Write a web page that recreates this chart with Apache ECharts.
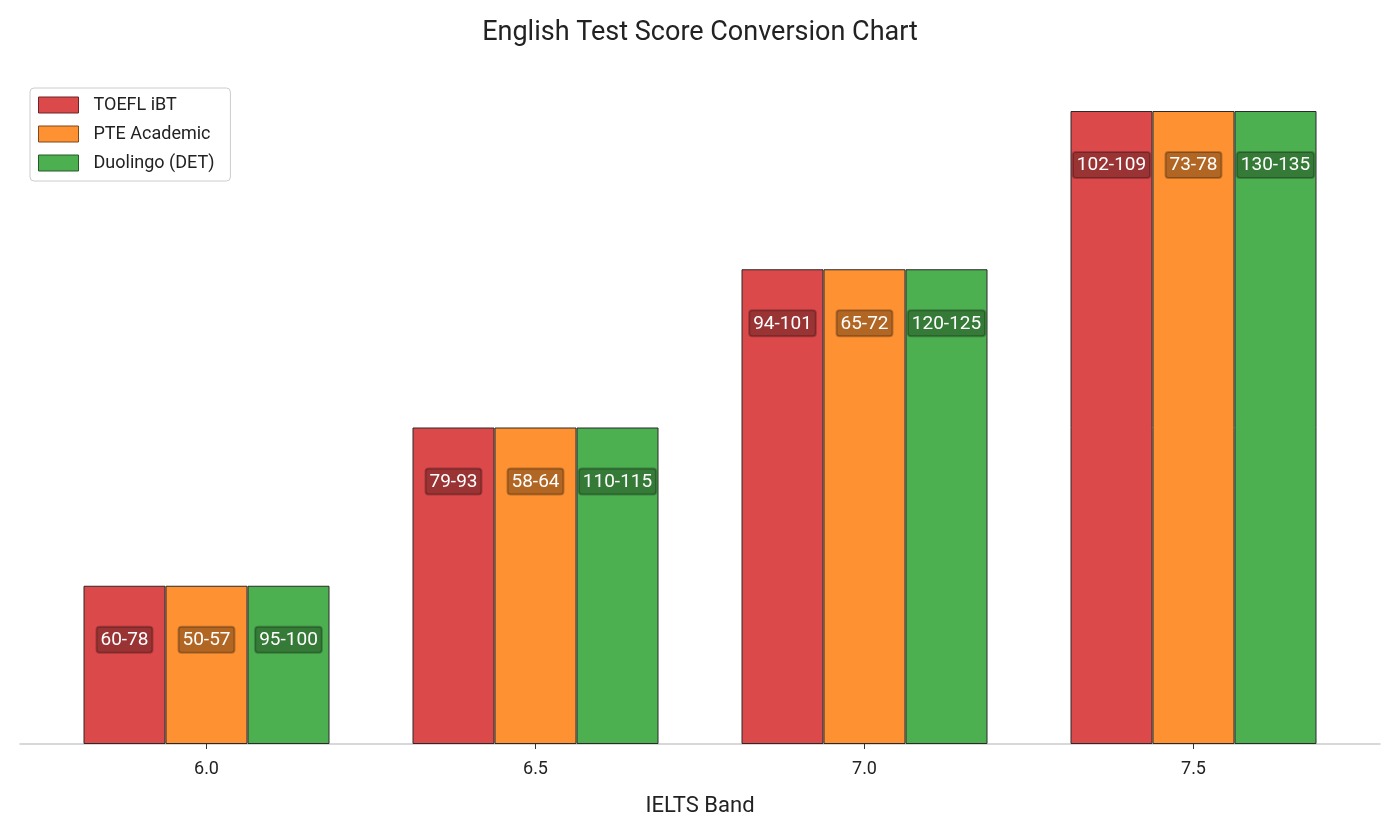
<!DOCTYPE html>
<html>
<head>
<meta charset="utf-8">
<script src="https://cdn.jsdelivr.net/npm/echarts@6/dist/echarts.min.js"></script>
<style>html,body{margin:0;padding:0;background:#fff}#c{width:1400px;height:840px}</style>
</head>
<body>
<div id="c"></div>
<script>
const categories = ['6.0', '6.5', '7.0', '7.5'];
const levels = [1, 2, 3, 4];
const toeflRanges = ['60-78', '79-93', '94-101', '102-109'];
const pteRanges = ['50-57', '58-64', '65-72', '73-78'];
const detRanges = ['95-100', '110-115', '120-125', '130-135'];
const seriesNames = ['TOEFL iBT', 'PTE Academic', 'Duolingo (DET)'];
const colors = ['#dc494b', '#fe9233', '#4caf50'];
const edgeColors = ['#6e2426', '#7f4919', '#265828'];

const chart = echarts.init(document.getElementById('c'));
const font = 'Roboto, "Noto Sans", sans-serif';

function mkSeries(i, ranges) {
  return {
    name: seriesNames[i],
    type: 'bar',
    xAxisIndex: 0,
    yAxisIndex: 0,
    data: levels,
    barWidth: 82,
    barGap: '0%',
    itemStyle: { color: colors[i], borderColor: '#2a2a2a', borderWidth: 1 },
    label: {
      show: true,
      position: 'insideTop',
      distance: 41,
      formatter: p => ranges[p.dataIndex],
      color: '#fff',
      fontFamily: font,
      fontSize: 19,
      lineHeight: 21,
      padding: [3, 4, 2, 4],
      backgroundColor: 'rgba(0,0,0,0.3)',
      borderColor: 'rgba(0,0,0,0.25)',
      borderWidth: 1,
      borderRadius: 3
    },
    emphasis: { disabled: true }
  };
}

chart.setOption({
  animation: false,
  textStyle: { fontFamily: font },
  title: {
    text: 'English Test Score Conversion Chart',
    left: 'center',
    top: 15,
    textStyle: { fontSize: 27, fontWeight: 'normal', color: '#222', fontFamily: font }
  },
  legend: {
    orient: 'vertical',
    left: 30,
    top: 88,
    itemWidth: 40,
    itemHeight: 16,
    itemGap: 11,
    padding: [8, 16, 9, 8],
    backgroundColor: '#fff',
    borderColor: '#cccccc',
    borderWidth: 1,
    borderRadius: 4,
    icon: 'rect',
    itemStyle: { borderWidth: 1 },
    textStyle: { fontSize: 18, color: '#222', fontFamily: font, padding: [0, 0, 0, 10] },
    data: seriesNames.map((n, i) => ({ name: n, itemStyle: { borderColor: edgeColors[i], borderWidth: 1 } }))
  },
  grid: [
    { left: 42, right: 42, top: 111, bottom: 96 },
    { left: 20, right: 20, top: 111, bottom: 96 }
  ],
  xAxis: [
    {
      type: 'category',
      gridIndex: 0,
      data: categories,
      axisLine: { show: false },
      axisTick: { show: true, alignWithLabel: true, length: 5, lineStyle: { color: '#333' } },
      axisLabel: { fontSize: 18, color: '#222', margin: 16, fontFamily: font },
      name: 'IELTS Band',
      nameLocation: 'middle',
      nameGap: 51,
      nameTextStyle: { fontSize: 22, color: '#222', fontFamily: font }
    },
    {
      type: 'value',
      gridIndex: 1,
      min: 0,
      max: 1,
      axisLine: { show: true, onZero: false, lineStyle: { color: '#cccccc', width: 1.5 } },
      axisTick: { show: false },
      axisLabel: { show: false },
      splitLine: { show: false }
    }
  ],
  yAxis: [
    { type: 'value', gridIndex: 0, min: 0, max: 4, show: false },
    { type: 'value', gridIndex: 1, min: 0, max: 1, show: false }
  ],
  series: [
    mkSeries(0, toeflRanges),
    mkSeries(1, pteRanges),
    mkSeries(2, detRanges)
  ]
});
</script>
</body>
</html>
